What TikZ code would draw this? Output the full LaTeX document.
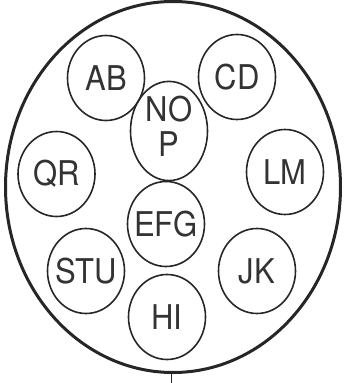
\documentclass[tikz,border=0pt]{standalone}
\usepackage{fontspec}
\setmainfont{TeX Gyre Heros}
\usetikzlibrary{shapes.geometric}
\tikzset{
  pin/.style={draw=black!85, line width=1.6pt, shape=ellipse, minimum width=77pt, minimum height=85pt, inner sep=0pt,
    font=\fontsize{31}{30}\selectfont, text=black!80},
  shell/.style={draw=black!85, line width=3pt, shape=ellipse, minimum width=335pt, minimum height=371pt, inner sep=0pt},
  tick/.style={draw=black!85, line width=1pt}
}
\newcommand{\lbl}[1]{\makebox[0pt]{\scalebox{1}[1.1]{#1}}}
\begin{document}
\begin{tikzpicture}[x=1pt,y=1pt]
\useasboundingbox (0,0) rectangle (347,383);
\node[shell] (outer) at (173,196) {};
\node[pin] (ab) at (106,305) {\lbl{AB}};
\node[pin] (cd) at (237,306) {\lbl{CD}};
\node[pin] (nop) at (169,252) {\raisebox{-6.5pt}{\lbl{\begin{tabular}{@{}c@{}}NO\\P\end{tabular}}}};
\node[pin] (qr) at (56.5,209) {\lbl{QR}};
\node[pin] (lm) at (285,211) {\lbl{LM}};
\node[pin] (efg) at (166,159) {\lbl{EFG}};
\node[pin] (stu) at (86,112) {\lbl{STU}};
\node[pin] (jk) at (257,112) {\lbl{JK}};
\node[pin] (hi) at (167,66) {\lbl{HI}};
\coordinate (tickend) at (171,0);
\draw[tick] (outer.south -| tickend) -- (tickend);
\end{tikzpicture}
\end{document}
